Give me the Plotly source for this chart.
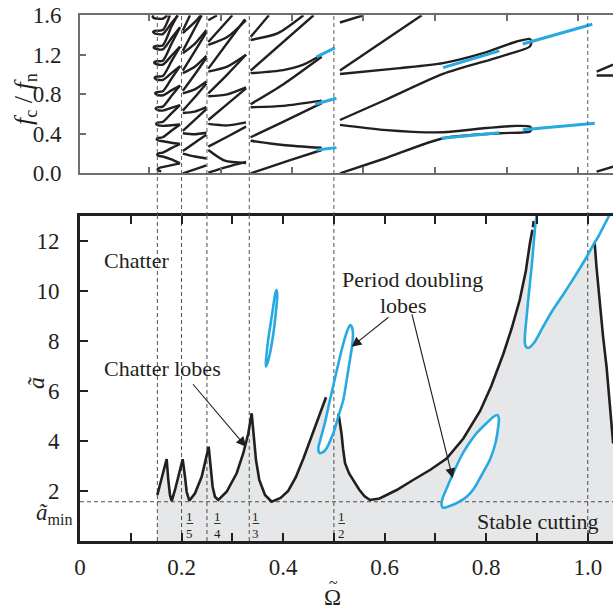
import plotly.graph_objects as go

# ---------------- data ----------------
# bottom panel: stability boundary (black)
seg1_x = [0.1523,0.1615,0.1707,0.1739,0.1772,0.1805,0.1871,0.1969,0.2022,0.2068,0.2101,0.2153,
          0.2265,0.2396,0.2481,0.2534,0.2573,0.2612,0.2658,0.2724,0.2888,0.3085,0.3216,0.3315,
          0.3381,0.3427,0.3466,0.3531,0.3643,0.3775,0.395,0.41,0.425,0.44,0.455,0.47,0.4845]
seg1_y = [1.84,2.57,3.28,2.44,1.84,1.60,2.04,2.84,3.27,2.57,1.97,1.61,
          1.91,2.57,3.24,3.77,2.97,2.17,1.77,1.64,1.97,2.71,3.51,4.31,
          5.11,4.17,3.24,2.44,1.84,1.57,1.72,2.0,2.55,3.3,4.1,4.95,5.75]
seg2_x = [0.509,0.512,0.515,0.518,0.522,0.530,0.538,0.550,0.560,0.571,0.590,0.6236,0.656,0.690,
          0.722,0.755,0.788,0.810,0.834,0.850,0.866,0.878,0.886,0.8895,0.891]
seg2_y = [5.10,4.70,4.30,3.70,3.11,2.70,2.44,2.05,1.80,1.64,1.70,2.04,2.44,2.85,
          3.30,4.10,5.20,6.20,7.50,8.50,9.64,10.8,11.9,12.24,12.45]
seg3_x = [1.0130,1.0142,1.0170,1.0200,1.0240,1.0300,1.0370,1.0430,1.0470,1.0500]
seg3_y = [11.95,11.77,11.00,10.30,9.64,8.20,6.97,5.60,4.60,3.90]
dot_x = [0.8920,0.8935]
dot_y = [12.55,12.80]

# bottom panel: period-doubling lobes (blue)
lobeA_x = [0.3665,0.3705,0.376,0.3815,0.386,0.3885,0.387,0.3845,0.380,0.3755,0.371,0.3675,0.366,0.3665]
lobeA_y = [6.98,7.20,7.70,8.40,9.20,9.80,10.04,9.90,9.30,8.70,8.10,7.50,7.10,6.98]
lobeB_x = [0.532,0.527,0.520,0.512,0.502,0.4923,0.482,0.474,0.4695,0.4700,0.4726,0.4825,0.4988,
           0.509,0.5185,0.528,0.5365,0.5375,0.535,0.532]
lobeB_y = [8.64,8.45,8.00,7.37,6.50,5.64,4.70,4.10,3.75,3.58,3.51,3.62,4.31,
           5.00,5.64,6.80,7.90,8.35,8.58,8.64]
lobeC_x = [0.7155,0.728,0.745,0.7615,0.776,0.790,0.807,0.818,0.8237,0.825,0.822,0.815,0.800,
           0.781,0.766,0.751,0.735,0.722,0.714,0.712,0.7155]
lobeC_y = [1.33,1.40,1.55,1.77,2.10,2.60,3.24,3.90,4.57,4.90,5.04,4.98,4.70,
           4.31,3.90,3.40,2.71,2.10,1.70,1.45,1.33]
lobeD_x = [0.8995,0.896,0.8895,0.884,0.8796,0.8765,0.876,0.878,0.883,0.895,0.912,0.930,0.952,
           0.975,0.998,1.013,1.020,1.043]
lobeD_y = [13.1,12.5,10.97,9.9,8.97,8.3,7.95,7.78,7.72,7.95,8.57,9.20,9.87,
           10.6,11.37,11.92,12.15,13.05]

# reference lines
dashed_omega = [0.1523, 0.2, 0.25, 1/3, 0.5, 1.0]
a_min = 1.57

# axis ticks
bx_ticks = [0,0.1,0.2,0.3,0.4,0.5,0.6,0.7,0.8,0.9,1.0]
bx_text = ["0","","0.2","","0.4","","0.6","","0.8","","1.0"]
by_ticks = [2,4,6,8,10,12]
tx_ticks = [0.1359,0.2771,0.4181,0.5577,0.6991,0.8402,0.9813]
ty_ticks = [0.0,0.4,0.8,1.2,1.6]
ty_text = ["0.0","0.4","0.8","1.2","1.6"]

# fractions under the dashed lines
frac_x = [0.2166,0.2704,0.3466,0.5154]
frac_den = ["5","4","3","2"]

# top panel: chatter frequencies (black), one list of (Omega, f) per branch
top_region1 = [
    [(0.160,0.02),(0.154,0.03),(0.153,0.045),(0.160,0.06),(0.178,0.08),(0.197,0.10)],
    [(0.197,0.10),(0.180,0.14),(0.163,0.17),(0.155,0.177),(0.152,0.19),(0.155,0.203),(0.163,0.21),(0.180,0.255),(0.197,0.297)],
    [(0.197,0.297),(0.180,0.31),(0.163,0.325),(0.154,0.332),(0.151,0.345),(0.154,0.358),(0.163,0.365),(0.180,0.43),(0.197,0.494)],
    [(0.197,0.494),(0.180,0.487),(0.163,0.48),(0.153,0.487),(0.150,0.50),(0.153,0.513),(0.163,0.52),(0.180,0.607),(0.197,0.691)],
    [(0.197,0.691),(0.180,0.663),(0.163,0.635),(0.152,0.642),(0.149,0.655),(0.152,0.668),(0.163,0.675),(0.180,0.782),(0.197,0.888)],
    [(0.197,0.888),(0.180,0.84),(0.163,0.79),(0.151,0.797),(0.148,0.81),(0.151,0.823),(0.163,0.83),(0.180,0.957),(0.197,1.085)],
    [(0.197,1.085),(0.180,1.015),(0.163,0.945),(0.150,0.952),(0.147,0.965),(0.150,0.978),(0.163,0.985),(0.180,1.133),(0.197,1.282)],
    [(0.197,1.282),(0.180,1.19),(0.163,1.10),(0.149,1.107),(0.146,1.12),(0.149,1.133),(0.163,1.14),(0.180,1.31),(0.197,1.479)],
    [(0.197,1.479),(0.180,1.367),(0.163,1.255),(0.148,1.262),(0.145,1.275),(0.148,1.288),(0.163,1.295),(0.180,1.485),(0.192,1.6)],
    [(0.193,1.6),(0.180,1.52),(0.163,1.41),(0.147,1.417),(0.144,1.43),(0.147,1.443),(0.163,1.45),(0.177,1.6)],
    [(0.172,1.6),(0.163,1.565),(0.146,1.572),(0.143,1.585),(0.145,1.6)],
]
top_region2 = [
    [(0.2025,0.0),(0.226,0.04),(0.249,0.08)],
    [(0.2025,0.20),(0.226,0.17),(0.249,0.15)],
    [(0.2025,0.225),(0.226,0.31),(0.249,0.39)],
    [(0.2025,0.405),(0.226,0.395),(0.249,0.41)],
    [(0.2025,0.43),(0.226,0.54),(0.249,0.65)],
    [(0.2025,0.61),(0.226,0.625),(0.249,0.67)],
    [(0.2025,0.635),(0.226,0.77),(0.249,0.91)],
    [(0.2025,0.81),(0.226,0.85),(0.249,0.93)],
    [(0.2025,0.835),(0.226,1.00),(0.249,1.17)],
    [(0.2025,1.015),(0.226,1.08),(0.249,1.19)],
    [(0.2025,1.04),(0.226,1.235),(0.249,1.43)],
    [(0.2025,1.215),(0.226,1.31),(0.249,1.45)],
    [(0.2025,1.24),(0.2397,1.6)],
    [(0.2025,1.42),(0.226,1.53),(0.238,1.6)],
    [(0.2025,1.445),(0.2167,1.6)],
]
top_region3 = [
    [(0.2527,0.006),(0.29,0.065),(0.327,0.115)],
    [(0.2527,0.236),(0.285,0.128),(0.327,0.105)],
    [(0.2527,0.27),(0.29,0.37),(0.327,0.473)],
    [(0.2527,0.50),(0.29,0.485),(0.327,0.515)],
    [(0.2527,0.54),(0.29,0.70),(0.327,0.86)],
    [(0.2527,0.78),(0.29,0.80),(0.327,0.87)],
    [(0.2527,0.81),(0.29,1.00),(0.327,1.20)],
    [(0.2527,1.03),(0.29,1.08),(0.327,1.20)],
    [(0.2527,1.06),(0.29,1.32),(0.325,1.56)],
    [(0.2527,1.30),(0.29,1.38),(0.327,1.55)],
    [(0.2527,1.33),(0.30,1.6)],
    [(0.2527,1.55),(0.27,1.6)],
]
top_region4 = [
    [(0.336,0.0),(0.414,0.134),(0.476,0.236)],
    [(0.336,0.33),(0.40,0.287),(0.476,0.258)],
    [(0.336,0.365),(0.40,0.52),(0.476,0.71)],
    [(0.336,0.669),(0.40,0.683),(0.476,0.736)],
    [(0.336,0.70),(0.40,0.90),(0.476,1.18)],
    [(0.336,1.014),(0.40,1.045),(0.44,1.10),(0.476,1.20)],
    [(0.336,1.04),(0.46,1.6)],
    [(0.336,1.35),(0.39,1.42),(0.44,1.6)],
    [(0.336,1.38),(0.372,1.6)],
]
top_region5 = [
    [(0.512,0.0),(0.60,0.15),(0.715,0.355),(0.827,0.406),(0.886,0.422),(0.8895,0.446)],
    [(0.8895,0.446),(0.886,0.473),(0.86,0.48),(0.794,0.456),(0.715,0.415),(0.597,0.44),(0.512,0.49)],
    [(0.512,0.54),(0.60,0.74),(0.715,1.007),(0.827,1.18),(0.886,1.284),(0.8895,1.335)],
    [(0.8895,1.335),(0.886,1.36),(0.86,1.335),(0.794,1.217),(0.715,1.116),(0.63,1.065),(0.512,1.006)],
    [(0.512,1.04),(0.673,1.6)],
    [(0.512,1.527),(0.558,1.6)],
    [(1.0175,0.016),(1.05,0.067)],
    [(1.0175,0.99),(1.05,0.99)],
    [(1.0175,1.03),(1.05,1.10)],
]
# top panel: period-doubling frequencies (blue)
top_blue = [
    [(0.466,0.236),(0.505,0.26)],
    [(0.463,0.70),(0.505,0.76)],
    [(0.466,1.18),(0.502,1.27)],
    [(0.712,0.355),(0.826,0.41)],
    [(0.872,0.44),(1.014,0.507)],
    [(0.715,1.07),(0.826,1.24)],
    [(0.872,1.31),(1.009,1.51)],
]

# ---------------- styling ----------------
W, H = 613, 609
BLACK = "#231f20"
GRAY_FILL = "#e6e7e8"
BLUE = "#27aae1"
DASH = "#4d4d4d"
TOPLINE = "#6d6e71"
FONT = "Liberation Serif, Times New Roman, serif"
XR = [0, 1.0497]

def px(x):  # pixel -> paper
    return x / W
def py(y):
    return 1 - y / H

def join(segs):
    xs, ys = [], []
    for s in segs:
        xs += [p[0] for p in s] + [None]
        ys += [p[1] for p in s] + [None]
    return xs, ys

fig = go.Figure()

# gray stable region
poly_x = [seg1_x[0]] + seg1_x + lobeB_x[5:14] + seg2_x + lobeD_x[1:16] + seg3_x + [seg3_x[-1]]
poly_y = [0] + seg1_y + lobeB_y[5:14] + seg2_y + lobeD_y[1:16] + seg3_y + [0]
fig.add_trace(go.Scatter(x=poly_x, y=poly_y, fill="toself", fillcolor=GRAY_FILL,
                         line=dict(width=0), mode="lines", hoverinfo="skip"))

# dashed lines in bottom panel
dx, dy = [], []
for w in dashed_omega:
    dx += [w, w, None]
    dy += [0, 13, None]
dx += [0, XR[1], None]
dy += [a_min, a_min, None]
fig.add_trace(go.Scatter(x=dx, y=dy, mode="lines",
                         line=dict(color=DASH, width=1, dash="4px,3px")))

# black boundary
bx = seg1_x + [None] + seg2_x + [None] + seg3_x + [None] + dot_x
by = seg1_y + [None] + seg2_y + [None] + seg3_y + [None] + dot_y
fig.add_trace(go.Scatter(x=bx, y=by, mode="lines", line=dict(color=BLACK, width=2.6)))

# blue lobes
fig.add_trace(go.Scatter(x=lobeC_x, y=lobeC_y, mode="lines", fill="toself", fillcolor="white",
                         line=dict(color=BLUE, width=2.6, shape="spline", smoothing=0.6)))
for lx, ly in [(lobeA_x, lobeA_y), (lobeB_x, lobeB_y), (lobeD_x, lobeD_y)]:
    fig.add_trace(go.Scatter(x=lx, y=ly, mode="lines",
                             line=dict(color=BLUE, width=2.6, shape="spline", smoothing=0.6)))

# top panel
tk_x, tk_y = join(top_region1 + top_region2 + top_region3 + top_region4 + top_region5)
fig.add_trace(go.Scatter(x=tk_x, y=tk_y, mode="lines", xaxis="x2", yaxis="y2",
                         line=dict(color=BLACK, width=2.4, shape="spline", smoothing=0.7)))
tb_x, tb_y = join(top_blue)
fig.add_trace(go.Scatter(x=tb_x, y=tb_y, mode="lines", xaxis="x2", yaxis="y2",
                         line=dict(color=BLUE, width=3)))

# dashed lines through top panel and the gap
BOT_TOP = py(216)
TOP_TOP = py(15.3)
shapes = []
for w in dashed_omega:
    shapes.append(dict(type="line", xref="x", yref="paper", x0=w, x1=w, y0=BOT_TOP, y1=TOP_TOP,
                       line=dict(color="#5a5a5a", width=1, dash="4px,3px"), layer="above"))

annotations = []
# fractions
for fx, den in zip(frac_x, frac_den):
    annotations.append(dict(x=fx, y=0.98, xref="x", yref="y", text="1", showarrow=False,
                            xanchor="center", yanchor="middle",
                            font=dict(family=FONT, size=13, color=BLACK)))
    annotations.append(dict(x=fx, y=0.30, xref="x", yref="y", text=den, showarrow=False,
                            xanchor="center", yanchor="middle",
                            font=dict(family=FONT, size=13, color=BLACK)))
    shapes.append(dict(type="line", xref="x", yref="y", x0=fx - 0.0065, x1=fx + 0.0065,
                       y0=0.70, y1=0.70, line=dict(color=BLACK, width=0.9)))

txt = dict(family=FONT, size=22, color=BLACK)
annotations += [
    dict(x=0.0427, y=11.24, xref="x", yref="y", text="Chatter", showarrow=False,
         xanchor="left", yanchor="middle", font=txt),
    dict(x=0.0427, y=6.92, xref="x", yref="y", text="Chatter lobes", showarrow=False,
         xanchor="left", yanchor="middle", font=txt),
    dict(x=0.6558, y=10.48, xref="x", yref="y", text="Period doubling", showarrow=False,
         xanchor="center", yanchor="middle", font=txt),
    dict(x=0.636, y=9.44, xref="x", yref="y", text="lobes", showarrow=False,
         xanchor="center", yanchor="middle", font=txt),
    dict(x=0.902, y=0.80, xref="x", yref="y", text="Stable cutting", showarrow=False,
         xanchor="center", yanchor="middle", font=txt),
]
# arrows
for (tx, ty), (hx, hy) in [((0.22, 6.33), (0.327, 3.77)),
                           ((0.6105, 9.0), (0.535, 7.77)),
                           ((0.653, 9.13), (0.734, 2.51))]:
    annotations.append(dict(x=hx, y=hy, ax=tx, ay=ty, xref="x", yref="y", axref="x", ayref="y",
                            text="", showarrow=True, arrowhead=2, arrowsize=1.8, arrowwidth=1.1,
                            arrowcolor=BLACK, standoff=0))
# axis titles
annotations += [
    dict(x=px(332), y=py(597), xref="paper", yref="paper", text="\u03a9", showarrow=False,
         xanchor="center", yanchor="middle", font=dict(family=FONT, size=23, color=BLACK)),
    dict(x=px(333), y=py(582), xref="paper", yref="paper", text="~", showarrow=False,
         xanchor="center", yanchor="middle", font=dict(family=FONT, size=16, color=BLACK)),
    dict(x=px(36), y=py(383), xref="paper", yref="paper", text="<i>ã</i>", showarrow=False,
         xanchor="center", yanchor="middle",
         textangle=-90, font=dict(family=FONT, size=24, color=BLACK)),
    dict(x=px(54), y=py(514), xref="paper", yref="paper", text="<i>ã</i><sub>min</sub>",
         xanchor="center", yanchor="middle",
         showarrow=False, font=dict(family=FONT, size=23, color=BLACK)),
    dict(x=px(25), y=py(99), xref="paper", yref="paper",
         text="<i>f</i><sub>c</sub> / <i>f</i><sub>n</sub>", showarrow=False,
         xanchor="center", yanchor="middle",
         textangle=-90, font=dict(family=FONT, size=26, color=BLACK)),
]

XD = [px(80), 1.0]
tickfont = dict(family=FONT, size=23, color=BLACK)
fig.update_layout(
    width=W, height=H, margin=dict(l=0, r=0, t=0, b=0, pad=0), autosize=False,
    paper_bgcolor="white", plot_bgcolor="white", showlegend=False,
    shapes=shapes, annotations=annotations,
    xaxis=dict(domain=XD, range=XR, anchor="y", tickvals=bx_ticks, ticktext=bx_text,
               ticks="inside", ticklen=8, tickwidth=2, tickcolor=BLACK, automargin=False,
               showline=True, linewidth=3, linecolor=BLACK, mirror="ticks",
               showgrid=False, zeroline=False, tickfont=tickfont, ticklabelstandoff=3),
    yaxis=dict(domain=[py(541), py(216)], range=[0, 13], anchor="x", tickvals=by_ticks,
               ticks="inside", ticklen=8, tickwidth=2, tickcolor=BLACK, automargin=False,
               showline=True, linewidth=3, linecolor=BLACK,
               showgrid=False, zeroline=False, tickfont=tickfont, ticklabelstandoff=13),
    yaxis3=dict(overlaying="y", side="right", range=[0, 13], anchor="x", tickvals=by_ticks,
                ticks="inside", ticklen=8, tickwidth=2, tickcolor=BLACK, showline=False,
                automargin=False,
                showticklabels=False, showgrid=False, zeroline=False),
    xaxis2=dict(domain=XD, range=XR, anchor="y2", tickvals=tx_ticks, showticklabels=False,
                ticks="inside", ticklen=6, tickwidth=1.5, tickcolor=TOPLINE, automargin=False,
                showline=True, linewidth=2, linecolor=TOPLINE, mirror="ticks",
                showgrid=False, zeroline=False),
    yaxis2=dict(domain=[py(173.3), py(15.3)], range=[0, 1.6], anchor="x2", tickvals=ty_ticks,
                ticktext=ty_text, ticks="inside", ticklen=6, tickwidth=1.5, tickcolor=TOPLINE,
                showline=True, linewidth=2, linecolor=TOPLINE, automargin=False,
                showgrid=False, zeroline=False, tickfont=tickfont, ticklabelstandoff=12),
    yaxis4=dict(overlaying="y2", side="right", range=[0, 1.6], anchor="x2", tickvals=ty_ticks,
                ticks="inside", ticklen=6, tickwidth=1.5, tickcolor=TOPLINE, showline=False,
                automargin=False,
                showticklabels=False, showgrid=False, zeroline=False),
)
fig.write_html("out.html", config={"displayModeBar": False},
               post_script="document.body.style.margin='0px';")
